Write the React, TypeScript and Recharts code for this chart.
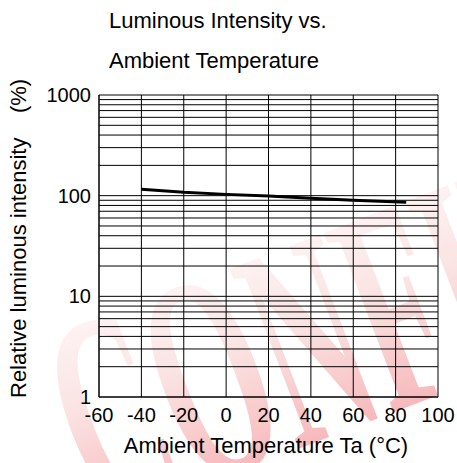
import React from 'react';
import {
  LineChart,
  Line,
  XAxis,
  YAxis,
  CartesianGrid,
  Label,
} from 'recharts';

// Ambient temperature (°C) and relative luminous intensity (%)
const temps = [-40, -20, 0, 20, 40, 60, 85];
const intensity = [116, 108, 103, 99, 94, 90, 86];

const xTicks = [-60, -40, -20, 0, 20, 40, 60, 80, 100];
const decadeTicks = [1, 10, 100, 1000];
// log grid: 1..9, 10..90, 100..900, 1000
const yGridTicks = [
  1, 2, 3, 4, 5, 6, 7, 8, 9,
  10, 20, 30, 40, 50, 60, 70, 80, 90,
  100, 200, 300, 400, 500, 600, 700, 800, 900,
  1000,
];

const titleLines = ['Luminous Intensity vs.', 'Ambient Temperature'];
const xLabel = 'Ambient Temperature Ta (°C)';
const yLabel = 'Relative luminous intensity    (%)';

const FONT = '"Liberation Sans", Arial, sans-serif';

export default function App() {
  const data = temps.map((t, i) => ({ temp: t, value: intensity[i] }));

  return (
    <div style={{ position: 'absolute', left: 0, top: 0, width: 457, height: 463, fontFamily: FONT, background: '#fff' }}>
      {/* faint watermark behind the chart */}
      <svg width={457} height={463} style={{ position: 'absolute', left: 0, top: 0 }}>
        <defs>
          <linearGradient id="wm" x1="0" y1="0" x2="0" y2="1">
            <stop offset="0" stopColor="#ffffff" />
            <stop offset="0.45" stopColor="#f7c2c2" />
            <stop offset="1" stopColor="#e8323a" />
          </linearGradient>
        </defs>
        <text
          transform="translate(100,525) rotate(-21) scale(1,2.1)"
          fontFamily='"Liberation Serif", "Times New Roman", serif'
          fontWeight="bold"
          fontSize={140}
          fill="url(#wm)"
          opacity={0.45}
        >
          CONFIDENTIAL
        </text>
      </svg>

      <svg width={457} height={90} style={{ position: 'absolute', left: 0, top: 0 }}>
        {titleLines.map((t, i) => (
          <text key={t} x={109} y={28 + i * 40} fontSize={22} fontFamily={FONT} fill="#000">
            {t}
          </text>
        ))}
      </svg>

      <div style={{ position: 'absolute', left: 0, top: 0 }}>
        <LineChart
          width={457}
          height={463}
          data={data}
          margin={{ top: 95, right: 19, left: 0, bottom: 0 }}
        >
          <CartesianGrid stroke="#000" strokeWidth={1} />
          <XAxis
            dataKey="temp"
            type="number"
            domain={[-60, 100]}
            ticks={xTicks}
            interval={0}
            height={66}
            tickLine={false}
            axisLine={{ stroke: '#000' }}
            tick={{ fill: '#000', fontSize: 20, fontFamily: FONT }}
            tickMargin={5}
          >
            <Label
              content={() => (
                <text x={266} y={453} textAnchor="middle" fontSize={22} fontFamily={FONT} fill="#000">
                  {xLabel}
                </text>
              )}
            />
          </XAxis>
          <YAxis
            dataKey="value"
            scale="log"
            domain={[1, 1000]}
            allowDataOverflow
            ticks={yGridTicks}
            interval={0}
            width={99}
            tickLine={false}
            axisLine={{ stroke: '#000' }}
            tick={{ fill: '#000', fontSize: 20, fontFamily: FONT }}
            tickFormatter={(v: number) => (decadeTicks.includes(v) ? String(v) : '')}
          >
            <Label
              content={() => (
                <text
                  x={26}
                  y={398}
                  transform="rotate(-90, 26, 398)"
                  fontSize={22}
                  fontFamily={FONT}
                  fill="#000"
                  style={{ whiteSpace: 'pre' }}
                >
                  {yLabel}
                </text>
              )}
            />
          </YAxis>
          <Line
            type="linear"
            dataKey="value"
            stroke="#000"
            strokeWidth={3}
            dot={false}
            isAnimationActive={false}
          />
        </LineChart>
      </div>
    </div>
  );
}
